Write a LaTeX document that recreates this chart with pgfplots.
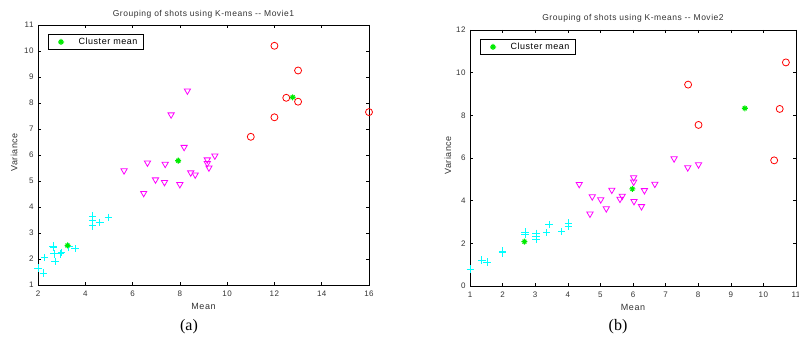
\documentclass[border=0pt]{standalone}
\usepackage{fontspec}
\setmainfont{Liberation Sans}
\newfontfamily\mfont{Liberation Sans}[LetterSpace=6]
\newfontfamily\timesfont{Liberation Serif}
\usepackage{pgfplots}
\pgfplotsset{compat=1.18}
\definecolor{mcyan}{RGB}{0,255,255}
\definecolor{mmag}{RGB}{255,0,255}
\definecolor{mred}{RGB}{255,0,0}
\definecolor{mgreen}{RGB}{0,235,0}
\makeatletter
\pgfdeclareplotmark{mstar}{%
  \pgfpathmoveto{\pgfqpoint{0pt}{\pgfplotmarksize}}\pgfpathlineto{\pgfqpoint{0pt}{-\pgfplotmarksize}}%
  \pgfpathmoveto{\pgfqpoint{\pgfplotmarksize}{0pt}}\pgfpathlineto{\pgfqpoint{-\pgfplotmarksize}{0pt}}%
  \pgfpathmoveto{\pgfqpoint{.65\pgfplotmarksize}{.65\pgfplotmarksize}}\pgfpathlineto{\pgfqpoint{-.65\pgfplotmarksize}{-.65\pgfplotmarksize}}%
  \pgfpathmoveto{\pgfqpoint{.65\pgfplotmarksize}{-.65\pgfplotmarksize}}\pgfpathlineto{\pgfqpoint{-.65\pgfplotmarksize}{.65\pgfplotmarksize}}%
  \pgfusepathqstroke}
\makeatother
\pgfplotsset{
 mstyle/.style={
  scale only axis,
  clip=false,
  axis line style={line width=0.8pt},
  tick style={line width=0.6pt, black},
  major tick length=3pt,
  tick align=inside,
  xtick pos=both, ytick pos=both,
  xticklabel pos=bottom, yticklabel pos=left,
  ticklabel style={font=\mfont\fontsize{8}{9}\selectfont, color=black!80},
  xticklabel style={yshift=-2pt},
  yticklabel style={xshift=-1pt},
  /pgf/number format/assume math mode=true,
  title style={font=\mfont\fontsize{8.5}{10}\selectfont, color=black!80, at={(axis description cs:0.5,1)}, anchor=center},
  xlabel style={font=\mfont\fontsize{9}{10}\selectfont, color=black!80, at={(axis description cs:0.5,0)}, anchor=center, yshift=-21pt},
  ylabel style={font=\mfont\fontsize{9}{10}\selectfont, color=black!80, anchor=center},
  legend style={at={(axis description cs:0,1)}, anchor=north west, xshift=10pt, yshift=-9pt,
     draw=black, line width=0.9pt, font=\mfont\fontsize{9}{10}\selectfont, inner ysep=1.5pt, inner xsep=1pt},
  legend cell align=left,
  legend image code/.code={\path (0pt,0pt) (26pt,0pt); \draw[#1] plot coordinates {(11pt,0pt)};},
  cyanp/.style={only marks, mark=+, mark size=3.8pt, color=mcyan, line width=0.8pt, forget plot},
  magp/.style={only marks, mark=triangle, mark size=3.6pt, mark options={rotate=180}, color=mmag, line width=0.8pt, forget plot},
  redp/.style={only marks, mark=o, mark size=3.5pt, color=mred, line width=0.8pt, forget plot},
  greenp/.style={only marks, mark=mstar, mark size=3pt, color=mgreen, line width=1.1pt},
 }
}
\begin{document}
\begin{tikzpicture}[x=1pt,y=1pt]
\useasboundingbox (0,0) rectangle (799,347);
% ---------------- Movie 1 ----------------
\begin{axis}[mstyle,
  at={(38pt,62pt)}, anchor=south west, width=331pt, height=260pt,
  xmin=2, xmax=16, ymin=1, ymax=11,
  xtick={2,4,...,16}, ytick={1,2,...,11},
  title style={yshift=5pt},
  ylabel style={at={(axis description cs:-0.072,0.51)}},
  title={Grouping of shots using K-means -{}- Movie1},
  xlabel={Mean}, ylabel={Variance}]
\addplot[cyanp] coordinates {(2.0,1.65)(2.24,1.45)(2.28,2.05)(2.64,2.5)(2.66,2.44)(2.68,2.2)(2.72,1.9)(2.95,2.2)(3.0,2.25)(3.3,2.47)(3.57,2.4)(4.31,3.65)(4.31,3.47)(4.31,3.28)(4.61,3.4)(4.98,3.6)};
\addplot[magp] coordinates {(8.32,8.47)(7.63,7.55)(8.18,6.3)(9.48,5.97)(9.16,5.82)(9.16,5.68)(9.23,5.51)(5.64,5.4)(6.63,5.7)(7.38,5.65)(8.46,5.32)(8.65,5.24)(6.97,5.05)(7.35,4.95)(8.0,4.87)(6.47,4.53)};
\addplot[redp] coordinates {(12,10.2)(13,9.25)(12.5,8.2)(13,8.05)(12,7.45)(11,6.7)(16,7.65)};
\addplot[greenp] coordinates {(3.25,2.52)(7.93,5.78)(12.77,8.22)};
\addlegendentry{\makebox[62pt][l]{Cluster mean}}
\end{axis}
% ---------------- Movie 2 ----------------
\begin{axis}[mstyle,
  at={(470pt,61pt)}, anchor=south west, width=326pt, height=256pt,
  xmin=1, xmax=11, ymin=0, ymax=12,
  xtick={1,2,...,11}, ytick={0,2,...,12},
  title style={yshift=6pt},
  ylabel style={at={(axis description cs:-0.068,0.51)}},
  title={Grouping of shots using K-means -{}- Movie2},
  xlabel={Mean}, ylabel={Variance}]
\addplot[cyanp] coordinates {(1.01,0.8)(1.36,1.22)(1.53,1.12)(2.0,1.63)(2.0,1.56)(2.69,2.52)(2.69,2.43)(3.03,2.47)(3.03,2.34)(3.03,2.19)(3.35,2.5)(3.43,2.88)(3.81,2.55)(4.02,2.94)(4.02,2.78)};
\addplot[magp] coordinates {(7.26,5.97)(7.68,5.55)(8.01,5.69)(6.02,5.08)(6.02,4.88)(6.67,4.78)(4.35,4.77)(6.35,4.48)(5.35,4.5)(5.67,4.22)(5.6,4.08)(4.75,4.19)(5.01,4.05)(6.03,3.97)(5.18,3.63)(6.26,3.73)(4.68,3.38)};
\addplot[redp] coordinates {(10.69,10.48)(7.69,9.44)(10.5,8.3)(8.01,7.55)(10.33,5.89)};
\addplot[greenp] coordinates {(2.67,2.08)(5.98,4.55)(9.43,8.33)};
\addlegendentry{\makebox[62pt][l]{Cluster mean}}
\end{axis}
\node[font=\timesfont\fontsize{16}{18}\selectfont] at (189,20) {(a)};
\node[font=\timesfont\fontsize{16}{18}\selectfont] at (618,20) {(b)};
\end{tikzpicture}
\end{document}
